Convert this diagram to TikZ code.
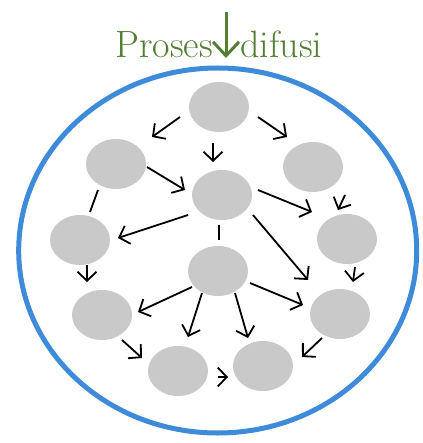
\documentclass[tikz,border=0pt]{standalone}
\usetikzlibrary{shapes.geometric,arrows.meta}
\definecolor{rimblue}{RGB}{61,139,217}
\definecolor{titlegreen}{RGB}{84,126,52}
\definecolor{blobgray}{RGB}{201,201,201}
\tikzset{
  blob/.style={ellipse, fill=blobgray, minimum width=60bp, minimum height=50bp, inner sep=0pt},
  arr/.style={-{Straight Barb[length=9bp,width=19bp]}, line width=1.8bp, black},
  link/.style={line width=1.8bp, black},
  label/.style={text=titlegreen, inner sep=0pt, font=\fontsize{38bp}{42bp}\selectfont}
}
\begin{document}
\begin{tikzpicture}[x=1bp, y=-1bp]
    \useasboundingbox (0,0) rectangle (422,443);
    % membrane
    \draw[rimblue, line width=5bp] (217.7,250.5) ellipse [x radius=199, y radius=182.5];
    % title
    \node[label, anchor=base east] (proses) at (213,58) {Proses};
    \node[label, anchor=base west] (difusi) at (240,58) {difusi};
    \coordinate (drop) at (226,12);
    \draw[titlegreen, line width=3bp, -{Straight Barb[length=14bp,width=26bp]}]
        (drop) -- (drop |- proses.base);
    % particles
    \foreach \n/\x/\y in {top/219/107, upl/116/164, upr/313/167, mid/222/195,
                          midl/80/240, midr/347/239, low/218/271, lowl/102/315,
                          lowr/340/314, botl/178/371, botr/263/366} {
        \node[blob] (\n) at (\x,\y) {};
    }
    % spreading arrows
    \foreach \a/\sx/\sy/\b/\ex/\ey in {
            top/-39/10/upl/36/-27, top/-6/36/mid/-9/-33, top/39/10/upr/-26/-30,
            upl/31/3/mid/-37/-5, mid/-34/20/midl/38/-2, mid/36/-5/midr/-35/-27,
            upr/32/28/midr/-9/-29, mid/31/20/lowr/-32/-34, midl/7/25/lowl/-15/-33,
            midr/8/28/lowr/13/-32, low/-26/16/lowl/36/-3, low/-16/22/botl/10/-34,
            low/17/22/botr/-15/-28, low/32/12/lowr/-37/-9, lowl/20/25/botl/-36/-13,
            botl/40/6/botr/-35/11, lowr/-18/24/botr/39/-9} {
        \draw[arr] ([shift={(\sx,\sy)}]\a.center) -- ([shift={(\ex,\ey)}]\b.center);
    }
    % plain strokes
    \draw[link] ([shift={(-18,26)}]upl.center) -- ([shift={(10,-28)}]midl.center);
    \draw[link] ([shift={(-3,30)}]mid.center) -- ([shift={(1,-31)}]low.center);
\end{tikzpicture}
\end{document}
